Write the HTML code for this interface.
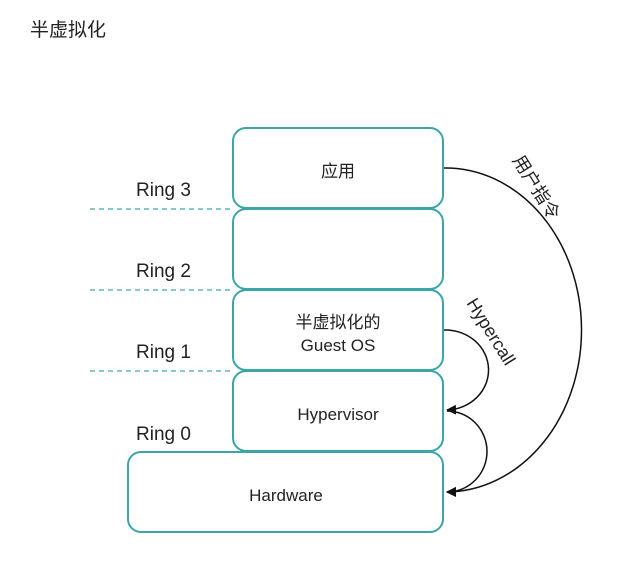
<!DOCTYPE html>
<html><head><meta charset="utf-8"><style>
body{margin:0;background:#fff;}
svg{display:block;}
text{font-family:"Liberation Sans","Noto Sans CJK SC",sans-serif;fill:#222;}
</style></head><body>
<svg width="634" height="573" viewBox="0 0 634 573">
<defs><marker id="a" markerWidth="10" markerHeight="10" refX="9" refY="5" orient="auto" markerUnits="userSpaceOnUse"><path d="M0,0 L10,5 L0,10 z" fill="#111"/></marker></defs>
<text x="30" y="36" font-size="19">半虚拟化</text>
<g stroke="#5bb8b8" stroke-width="1.5" stroke-dasharray="5,4">
<line x1="90" y1="209" x2="233" y2="209"/>
<line x1="90" y1="290" x2="233" y2="290"/>
<line x1="90" y1="371" x2="233" y2="371"/>
</g>
<g fill="#fff" stroke="#3aa6a6" stroke-width="2">
<rect x="233" y="128" width="210" height="80" rx="13"/>
<rect x="233" y="209" width="210" height="80" rx="13"/>
<rect x="233" y="290" width="210" height="80" rx="13"/>
<rect x="233" y="371" width="210" height="80" rx="13"/>
<rect x="128" y="452" width="315" height="80" rx="13"/>
</g>
<g font-size="19">
<text x="136" y="196">Ring 3</text>
<text x="136" y="277">Ring 2</text>
<text x="136" y="358">Ring 1</text>
<text x="136" y="440">Ring 0</text>
</g>
<g font-size="17" text-anchor="middle">
<text x="338" y="177">应用</text>
<text x="338" y="328">半虚拟化的</text>
<text x="338" y="351">Guest OS</text>
<text x="338" y="420">Hypervisor</text>
<text x="286" y="501">Hardware</text>
</g>
<g fill="none" stroke="#111" stroke-width="1.5">
<path d="M444,168 A136,162 0 0 1 447,492" marker-end="url(#a)"/>
<path d="M444,330 A43,40 0 0 1 447,410" marker-end="url(#a)"/>
<path d="M447,411 A40,40.5 0 0 1 447,492" marker-end="url(#a)"/>
</g>
<text font-size="18" transform="translate(512,160) rotate(58)">用户指令</text>
<text font-size="18" transform="translate(466,303) rotate(58)">Hypercall</text>
</svg>
</body></html>
